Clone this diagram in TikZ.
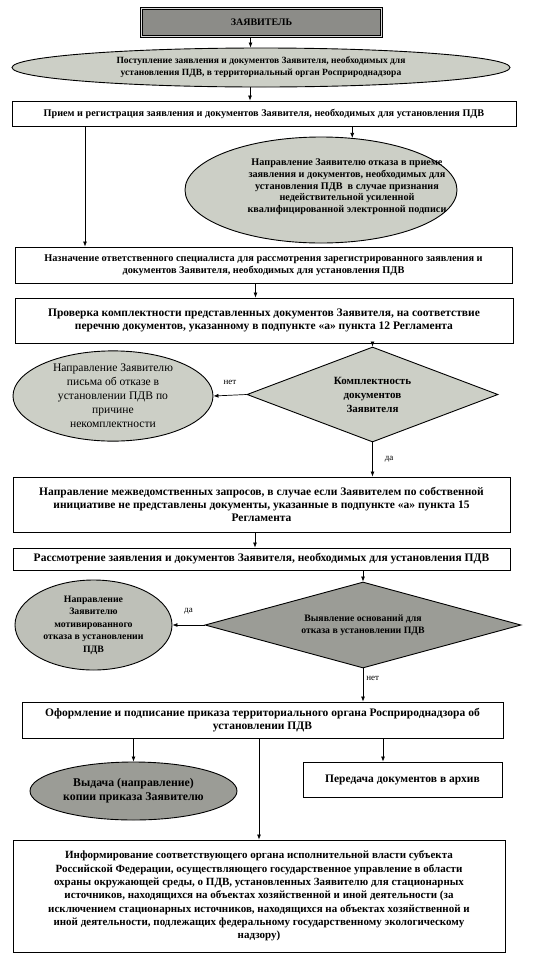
\documentclass[tikz,border=0pt]{standalone}
\usepackage{fontspec}
\setmainfont{Liberation Serif}
\usetikzlibrary{arrows.meta,shapes.geometric}
\definecolor{pdvlight}{RGB}{204,207,198}
\definecolor{pdvmid}{RGB}{190,192,184}
\definecolor{pdvdark}{RGB}{155,156,150}
\definecolor{pdvhead}{RGB}{140,140,136}

\begin{document}
\begin{tikzpicture}[x=1pt,y=-1pt,
  every node/.style={align=center,inner sep=0pt,font=\bfseries\fontsize{11.5}{13.3}\selectfont},
  box/.style={draw,line width=0.9pt,rectangle,fill=white},
  oval/.style={draw,line width=0.9pt,ellipse,fill=pdvlight},
  rhomb/.style={draw,line width=0.9pt,diamond,fill=pdvlight},
  arr/.style={-{Latex[length=5pt,width=4pt]},line width=0.7pt},
  lbl/.style={font=\fontsize{9}{10}\selectfont}]
  \useasboundingbox (0,0) rectangle (538,962);
  \node[box,fill=pdvhead,double=gray!30,double distance=1.6pt,minimum width=240pt,minimum height=28pt,font=\bfseries\fontsize{10}{12}\selectfont] (zayav) at (261.5,22.5) {ЗАЯВИТЕЛЬ};
  \node[oval,minimum width=498pt,minimum height=39pt,font=\bfseries\fontsize{9.5}{12}\selectfont] (postup) at (261,67.5) {Поступление заявления и документов Заявителя, необходимых для\\установления ПДВ, в территориальный орган Росприроднадзора};
  \node[box,minimum width=504pt,minimum height=25pt,font=\bfseries\fontsize{10.2}{12}\selectfont] (priem) at (264,113.5) {Прием и регистрация заявления и документов Заявителя, необходимых для установления ПДВ};
  \node[oval,minimum width=272pt,minimum height=106pt] (otkazpriem) at (321,190) {};
  \node[font=\bfseries\fontsize{10.2}{11.7}\selectfont] (otkaztext) at (347,187) {Направление Заявителю отказа в приеме\\заявления и документов, необходимых для\\установления ПДВ \ в случае признания\\недействительной усиленной\\квалифицированной электронной подписи};
  \node[box,minimum width=497pt,minimum height=36pt,font=\bfseries\fontsize{10.3}{12.5}\selectfont] (naznach) at (263.5,265) {Назначение ответственного специалиста для рассмотрения зарегистрированного заявления и\\документов Заявителя, необходимых для установления ПДВ};
  \node[box,minimum width=498pt,minimum height=45pt] (proverka) at (264,320.5) {Проверка комплектности представленных документов Заявителя, на соответствие\\перечню документов, указанному в подпункте «а» пункта 12 Регламента};
  \node[rhomb,minimum width=251pt,minimum height=95pt,aspect=2.6,font=\bfseries\fontsize{11}{14}\selectfont] (kompl) at (372.5,394.5) {Комплектность\\документов\\Заявителя};
  \node[oval,minimum width=200pt,minimum height=81pt,font=\fontsize{11.6}{14}\selectfont] (nekompl) at (113,396) {Направление Заявителю\\письма об отказе в\\установлении ПДВ по\\причине\\некомплектности};
  \node[box,minimum width=497pt,minimum height=55pt] (zapros) at (261.5,504.5) {Направление межведомственных запросов, в случае если Заявителем по собственной\\инициативе не представлены документы, указанные в подпункте «а» пункта 15\\Регламента};
  \node[box,minimum width=497pt,minimum height=22pt] (rassm) at (261.5,559) {Рассмотрение заявления и документов Заявителя, необходимых для установления ПДВ};
  \node[rhomb,fill=pdvdark,minimum width=316pt,minimum height=86pt,aspect=3.6,font=\bfseries\fontsize{9.8}{12}\selectfont] (osnov) at (363,625) {Выявление оснований для\\отказа в установлении ПДВ};
  \node[oval,fill=pdvmid,minimum width=157pt,minimum height=90pt,font=\bfseries\fontsize{9.8}{12.5}\selectfont] (motiv) at (93.5,625) {Направление\\Заявителю\\мотивированного\\отказа в установлении\\ПДВ};
  \node[box,minimum width=481pt,minimum height=36pt] (oform) at (262.5,720) {Оформление и подписание приказа территориального органа Росприроднадзора об\\установлении ПДВ};
  \node[oval,fill=pdvdark,minimum width=207pt,minimum height=58pt,font=\bfseries\fontsize{11.8}{14}\selectfont] (vydacha) at (133.5,791) {Выдача (направление)\\копии приказа Заявителю};
  \node[box,minimum width=199pt,minimum height=35pt] (arhiv) at (402.5,779.5) {Передача документов в архив};
  \node[box,minimum width=492pt,minimum height=112pt,font=\bfseries\fontsize{11}{13.3}\selectfont] (inform) at (259,896) {Информирование соответствующего органа исполнительной власти субъекта\\Российской Федерации, осуществляющего государственное управление в области\\охраны окружающей среды, о ПДВ, установленных Заявителю для стационарных\\источников, находящихся на объектах хозяйственной и иной деятельности (за\\исключением стационарных источников, находящихся на объектах хозяйственной и\\иной деятельности, подлежащих федеральному государственному экологическому\\надзору)};
  \draw[arr] ([xshift=-11pt]zayav.south) -- ([xshift=-11pt]zayav.south |- postup.north);
  \draw[arr] ([xshift=-11pt]postup.south) -- ([xshift=-11pt]postup.south |- priem.north);
  \draw[arr] ([xshift=-179pt]priem.south) -- ([xshift=-179pt]priem.south |- naznach.north);
  \draw[arr] (priem.south -| otkazpriem.59) -- (otkazpriem.59);
  \draw[arr] ([xshift=-8pt]naznach.south) -- ([xshift=-8pt]naznach.south |- proverka.north);
  \draw[arr] (proverka.south -| kompl.north) -- (kompl.north);
  \draw[arr] (kompl.west) -- (nekompl.east) node[lbl,midway,above=10pt] {нет};
  \draw[arr] (kompl.south) -- (kompl.south |- zapros.north) node[lbl,midway,right=12pt] {да};
  \draw[arr] ([xshift=-6.5pt]zapros.south) -- ([xshift=-6.5pt]zapros.south |- rassm.north);
  \draw[arr] (rassm.south -| osnov.north) -- (osnov.north);
  \draw[arr] (osnov.west) -- (motiv.east) node[lbl,midway,above=10pt] {да};
  \draw[arr] (osnov.south) -- (osnov.south |- oform.north) node[lbl,pos=0.3,right=3pt] {нет};
  \draw[arr] (oform.south -| vydacha.north) -- (vydacha.north);
  \draw[arr] ([xshift=-19.5pt]arhiv.north |- oform.south) -- ([xshift=-19.5pt]arhiv.north);
  \draw[arr] (oform.south -| inform.north) -- (inform.north);
\end{tikzpicture}
\end{document}
